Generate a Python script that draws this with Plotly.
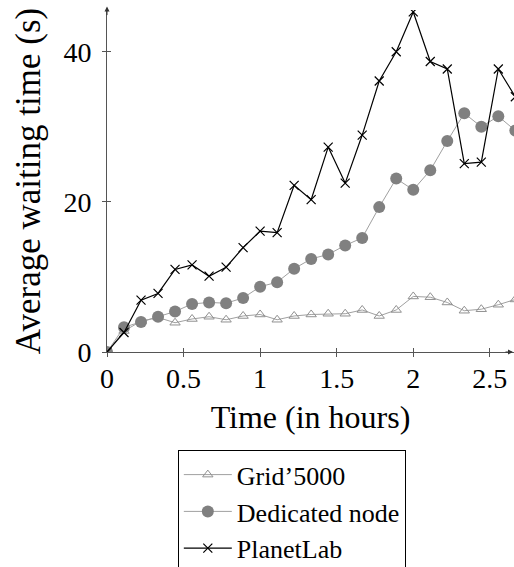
import plotly.graph_objects as go

# Time points (hours), every 1/9 hour
time_h = [k / 9 for k in range(25)]

grid5000 = [0, 2.8, 4.1, 4.6, 3.9, 4.4, 4.7, 4.3, 4.8, 5.0, 4.3, 4.8, 5.0,
            5.1, 5.1, 5.6, 4.8, 5.6, 7.4, 7.3, 6.6, 5.5, 5.7, 6.3, 7.0]
dedicated = [0, 3.3, 4.0, 4.7, 5.4, 6.4, 6.6, 6.5, 7.2, 8.7, 9.3, 11.1, 12.4,
             13.0, 14.2, 15.2, 19.3, 23.1, 21.6, 24.2, 28.1, 31.8, 30.0, 31.4, 29.5]
planetlab = [0, 2.6, 6.9, 7.8, 11.0, 11.6, 10.1, 11.3, 13.9, 16.1, 15.9, 22.2, 20.3,
             27.3, 22.5, 28.9, 36.1, 40.0, 45.3, 38.7, 37.7, 25.1, 25.3, 37.7, 34.0]

x_ticks = [0, 0.5, 1, 1.5, 2, 2.5]
x_ticklabels = ["0", "0.5", "1", "1.5", "2", "2.5"]
y_ticks = [0, 20, 40]
y_ticklabels = ["0", "20", "40"]

FONT = "Liberation Serif"
X_RANGE = [0, 2.658]
Y_RANGE = [0, 45.56]

fig = go.Figure()
fig.add_trace(go.Scatter(
    x=time_h, y=grid5000, name="Grid\u20195000", mode="lines+markers",
    line=dict(color="#a0a0a0", width=1),
    marker=dict(symbol="triangle-up-open", size=9, color="#909090", line=dict(width=1)),
))
fig.add_trace(go.Scatter(
    x=time_h, y=dedicated, name="Dedicated node", mode="lines+markers",
    line=dict(color="#a0a0a0", width=1),
    marker=dict(symbol="circle", size=12, color="#808080"),
))
fig.add_trace(go.Scatter(
    x=time_h, y=planetlab, name="PlanetLab", mode="lines+markers",
    line=dict(color="#000000", width=1.2),
    marker=dict(symbol="x-thin", size=9, color="#000000", line=dict(width=1.2, color="#000000")),
))
# invisible trace for the overlay axes (ticks on the inside)
fig.add_trace(go.Scatter(x=[None], y=[None], xaxis="x2", yaxis="y2", showlegend=False,
                         hoverinfo="skip"))

axis_common = dict(showgrid=False, zeroline=False, showline=True, linecolor="#555555",
                   linewidth=1, tickcolor="#555555", tickwidth=1, automargin=False,
                   tickfont=dict(family=FONT, size=28, color="#000"))

fig.update_layout(
    width=514, height=567,
    margin=dict(l=107, r=0, t=10, b=215, pad=0),
    paper_bgcolor="white", plot_bgcolor="white",
    font=dict(family=FONT, size=28, color="#000"),
    xaxis=dict(range=X_RANGE, tickvals=x_ticks, ticktext=x_ticklabels, ticks="outside",
               ticklen=4, ticklabelstandoff=-3,
               title=dict(text="Time (in hours)", font=dict(family=FONT, size=32), standoff=13),
               **axis_common),
    yaxis=dict(range=Y_RANGE, tickvals=y_ticks, ticktext=y_ticklabels, ticks="outside",
               ticklen=4, ticklabelstandoff=5,
               title=dict(text="Average waiting time (s)", font=dict(family=FONT, size=35), standoff=12),
               **axis_common),
    xaxis2=dict(range=X_RANGE, overlaying="x", anchor="y", side="bottom", tickvals=x_ticks[1:],
                ticks="inside", ticklen=4, showticklabels=False, showgrid=False, zeroline=False,
                showline=False, tickcolor="#555555", automargin=False),
    yaxis2=dict(range=Y_RANGE, overlaying="y", anchor="x", side="left", tickvals=y_ticks[1:],
                ticks="inside", ticklen=4, showticklabels=False, showgrid=False, zeroline=False,
                showline=False, tickcolor="#555555", automargin=False),
    legend=dict(xref="paper", yref="container", x=0.174, y=0.206,
                xanchor="left", yanchor="top",
                bordercolor="#000", borderwidth=1, bgcolor="white",
                font=dict(family=FONT, size=26), tracegroupgap=0, itemwidth=48),
    showlegend=True,
)

# axis arrowheads
fig.add_annotation(x=1, xref="paper", y=0, yref="y", ax=-10, ay=0, axref="pixel", ayref="pixel",
                   showarrow=True, arrowhead=2, arrowsize=1, arrowwidth=1, arrowcolor="#333",
                   text="")
fig.add_annotation(x=0, xref="x", y=1.01, yref="paper", ax=0, ay=10, axref="pixel", ayref="pixel",
                   showarrow=True, arrowhead=2, arrowsize=1, arrowwidth=1, arrowcolor="#333",
                   text="")

fig.write_html("out.html", config=dict(displayModeBar=False),
               post_script="document.body.style.margin='0';")
